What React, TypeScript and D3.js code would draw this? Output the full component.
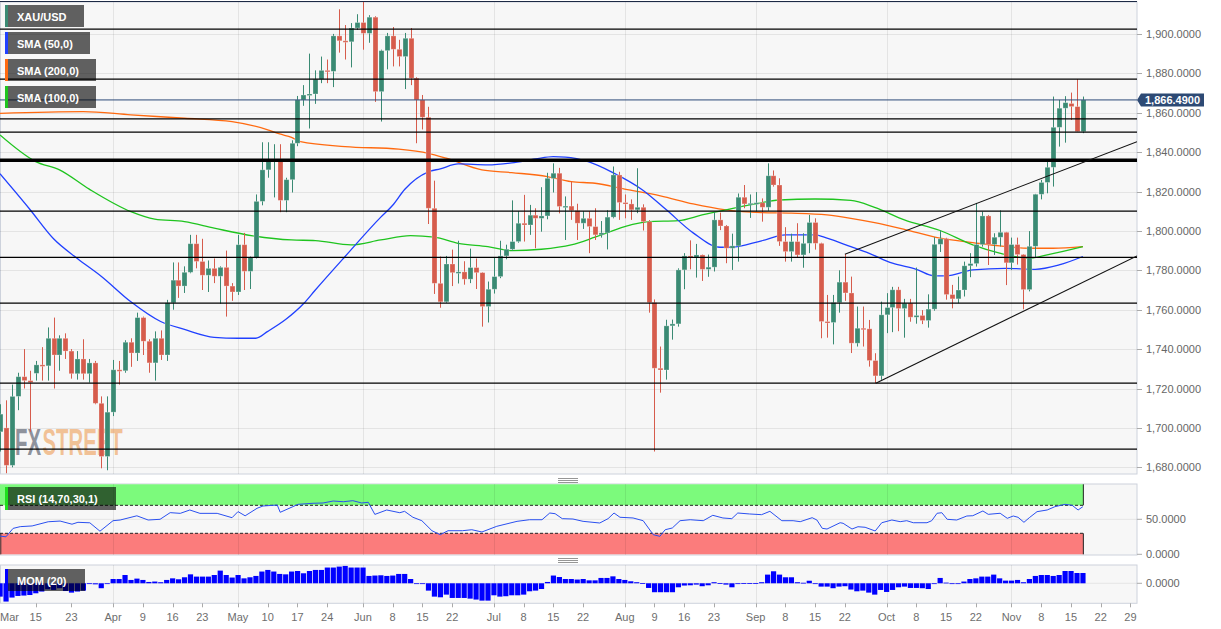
import React from 'react';
import * as d3 from 'd3';

// ---------- DATA ----------
// candle index 0 = 1 Apr 2021 (trading-day index), first candle = index -19
const FIRST_INDEX = -19;

const opens = [
  1698,1700,1681,1716,1726,1724,1727.7,1732,1731.5,1745.5,
  1737,1745.5,1739,1727.5,1735,1727.5,1733,1712.5,1685.5,1708,
  1729.5,1729,1743.5,1738,1756,1744,1733,1745.5,1737,1763.5,
  1775,1772,1779,1793.5,1784.5,1777.5,1781,1777,1781.5,1772,
  1769,1793,1779.5,1786.5,1815,1831,1836,1836.5,1815.5,1826,
  1844.5,1866.5,1869,1869.5,1877,1881.5,1881,1899,1896.5,1896,
  1903,1905.8,1900.3,1908.5,1870.7,1891.5,1899,1892.2,1888.5,1897.8,
  1877.5,1866.5,1857.7,1811.5,1773.4,1764,1783.2,1778.8,1779.2,1775.5,
  1781.4,1778.8,1761.6,1770.4,1776.8,1787.3,1790.7,1794.6,1803.9,1803,
  1808,1806.4,1807.6,1826.7,1829.3,1812.4,1812.6,1810.3,1803.9,1806.4,
  1802.2,1798,1799,1807,1828.4,1814.4,1813.7,1810.7,1812,1804.7,
  1763.6,1730.3,1729.4,1751.8,1752.8,1780.2,1787.3,1786.6,1787.8,1780.5,
  1781.6,1805.6,1802.5,1791.2,1792.4,1817.1,1813.7,1814,1814.3,1812,
  1828,1823.3,1794.6,1789.5,1794.6,1787.8,1793.7,1804.3,1793.7,1754,
  1753.5,1763.6,1774,1768.5,1743,1750.6,1750.3,1734.2,1726.4,1757.4,
  1761.1,1770.1,1760.6,1763.3,1756.2,1757.1,1754.5,1760.3,1793.2,1796,
  1767.7,1765.5,1770,1782.3,1783.4,1793.1,1807.6,1793.1,1796.8,1799.3,
  1783.8,1793.1,1788,1770.2,1792.2,1818.6,1824.6,1832.3,1852.6,1862.3,
  1864.7,1863.1,1850.4
];
const highs = [
  1712,1714,1722,1728,1740,1729,1734,1741,1751,1756,
  1747,1748,1740,1739,1745,1735,1734,1716,1716,1734.5,
  1734,1744.5,1745.5,1758.5,1756.5,1745,1749,1749.5,1765,1784,
  1784,1782,1798,1798,1796,1785,1786,1782,1790,1773.5,
  1798,1799,1787,1818.5,1845,1845,1844,1844,1827,1846,
  1868.5,1874,1890,1881.5,1888.5,1887,1900,1912.5,1904.5,1905.5,
  1910,1916.5,1909.5,1909,1892,1900.5,1903.5,1897,1900.5,1903,
  1878,1869,1863,1825.5,1787,1787.3,1790.5,1795,1784.6,1791,
  1786,1779,1774.3,1786.7,1795,1793,1815.5,1810,1818.3,1813.2,
  1811.5,1822.2,1829.5,1834.3,1832,1817.5,1825,1813.8,1810,1810,
  1811.5,1805,1810.5,1832.7,1830,1818.5,1816,1831.8,1813.5,1805.5,
  1765.2,1741.3,1754.9,1755,1781,1788.7,1795.2,1793.4,1788,1788,
  1809.6,1809.3,1803,1798.6,1819,1823.3,1818.5,1819.7,1816.5,1834.3,
  1830.7,1826.7,1801.9,1798.6,1803.9,1798.8,1808.1,1806.4,1794,1767.5,
  1767.5,1780,1788.2,1776.8,1761.6,1761.6,1754.8,1737.9,1764.1,1768.4,
  1771.6,1771.6,1765.5,1765.5,1781.4,1759.8,1767.8,1796.8,1800.2,1796.5,
  1772.6,1776.8,1784.4,1788.7,1814.2,1809.8,1808.1,1798.8,1810.4,1799.5,
  1796.6,1796.6,1788.2,1799.9,1818.8,1825.9,1836.4,1868.2,1866.5,1868.4,
  1870.2,1877,1868.2
];
const lows = [
  1688,1677,1680,1709,1720,1698,1724,1724,1724,1720,
  1729,1735,1725,1724.5,1724.5,1723,1712,1679.5,1678.5,1706,
  1722,1728,1731,1734,1737,1728,1724,1734.5,1734,1760,
  1766,1768.5,1778.5,1781,1770,1769,1773.5,1763,1756.5,1764.5,
  1767.5,1770,1770.5,1786,1813,1827,1817,1809.5,1809.5,1819.5,
  1843,1863.5,1852,1864.5,1875,1875,1873,1890.5,1887,1883,
  1902,1892,1895.5,1865.5,1855.5,1882,1883.5,1883.5,1872,1874,
  1844.5,1851.5,1803.5,1768,1761,1763.5,1772,1773.3,1772.7,1773.5,
  1770.5,1751.4,1753.5,1768.2,1776,1785.6,1790,1794,1794.6,1798,
  1791.2,1799.6,1805.9,1819.5,1808.9,1795.4,1805.6,1795.4,1801,1788.7,
  1795.4,1796.6,1790.6,1806.4,1805.6,1806.4,1805.6,1809,1800.2,1758.5,
  1688,1717.9,1724.5,1744.8,1751.4,1770.4,1780.5,1776.3,1774.6,1776.7,
  1779.4,1800.4,1783.6,1780.2,1784.4,1811.5,1806.6,1809.8,1804.7,1810.2,
  1822.5,1792.4,1784.4,1784.4,1786.5,1781.3,1788.7,1790.5,1745.5,1745.8,
  1742.4,1758.5,1764.5,1738,1741.3,1741.3,1731.1,1722.7,1724.4,1748.1,
  1748.6,1749.1,1745.8,1753.9,1752.9,1752.7,1750.9,1759.5,1789.3,1765.1,
  1760.7,1763.3,1766.7,1776.5,1781.9,1792,1782.7,1787.8,1792.1,1772.5,
  1780.2,1782.9,1760.2,1769.3,1786.3,1816,1819.1,1822.5,1842.8,1844.8,
  1856.3,1850.4,1849.6
];
const closes = [
  1707,1681,1716,1726,1724,1723,1732,1731.5,1745.5,1737,
  1745.5,1739,1727.5,1735,1727.5,1733,1712.5,1685.5,1708,1729.5,
  1729,1743.5,1738,1756,1744,1733,1745.5,1737,1763.5,1775,
  1772,1779,1793.5,1784.5,1777.5,1781,1777,1781.5,1772,1769,
  1793,1779.5,1786.5,1815,1831,1836,1836.5,1815.5,1826,1844.5,
  1866.5,1869,1869.5,1877,1881.5,1881,1899,1896.5,1896,1903,
  1905.8,1900.3,1908.5,1870.7,1891.5,1899,1892.2,1888.5,1897.8,1877.5,
  1866.5,1857.7,1811.5,1773.4,1764,1783.2,1778.8,1779.2,1775.5,1781.4,
  1778.8,1761.6,1770.4,1776.8,1787.3,1790.7,1794.6,1803.9,1803,1808,
  1806.4,1807.6,1826.7,1829.3,1812.4,1812.6,1810.3,1803.9,1806.4,1802.2,
  1798,1799,1807,1828.4,1814.4,1813.7,1810.7,1812,1804.7,1763.6,
  1730.3,1729.4,1751.8,1752.8,1780.2,1787.3,1786.6,1787.8,1780.5,1781.6,
  1805.6,1802.5,1791.2,1792.4,1817.1,1813.7,1814,1814.3,1812,1828,
  1823.3,1794.6,1789.5,1794.6,1787.8,1793.7,1804.3,1793.7,1754,1753.5,
  1763.6,1774,1768.5,1743,1750.6,1750.3,1734.2,1726.4,1757.4,1761.1,
  1770.1,1760.6,1763.3,1756.2,1757.1,1754.5,1760.3,1793.2,1796,1767.7,
  1765.5,1770,1782.3,1783.4,1793.1,1807.6,1793.1,1796.8,1799.3,1783.8,
  1793.1,1788,1770.2,1792.2,1818.6,1824.6,1832.3,1852.6,1862.3,1865.1,
  1863.1,1850.4,1866.49
];

const momValues = [
  -100,-137,-107,-95,-92,-88,-75,-62,-45,-50,
  -37,-58,-70,-62,-55,-2,-8,-37,-2,32,
  32,62,25,35,25,10,13,8,25,37,
  30,45,67,50,50,50,62,95,62,43,
  62,37,45,55,88,100,88,70,67,88,
  92,75,92,100,100,118,118,125,130,118,
  118,118,55,58,60,55,58,70,70,32,
  0,-5,-55,-100,-105,-85,-110,-110,-110,-115,
  -122,-130,-130,-90,-100,-97,-90,-90,-85,-60,
  -55,-43,10,58,47,32,32,28,32,22,
  22,40,40,52,32,25,15,8,2,-35,
  -67,-67,-67,-67,-30,-17,-15,-10,-22,-15,
  8,2,-10,-30,0,2,2,2,8,65,
  90,65,45,45,8,4,19,0,-25,-25,
  -37,-25,-22,-47,-60,-55,-70,-85,-50,-65,
  -50,-30,-25,-35,-35,-37,-43,-1,40,5,
  0,-3,13,32,37,50,50,65,37,20,
  20,25,8,32,55,62,62,55,62,92,
  92,77,77
];

// [candle index, value]
const sma50Points = [
  [-19,1829],[-14,1811],[-10,1796],[-6,1786],[-2,1777],[3,1764],[8,1754],[12,1750],[17,1746],
  [21,1745.5],[24,1745.5],[26,1749],[29,1755],[32,1763],[34,1770],[39,1787],[45,1807],[47,1813],
  [49,1821],[53,1830],[55,1831.5],[58,1834],[63,1833.5],[67,1834.5],[71,1836.5],[74,1837.7],
  [76,1837.5],[80,1835],[84,1829.6],[89,1820.8],[93,1810.7],[97.5,1799],[102,1791.7],[104,1791.7],
  [109,1795],[113,1798],[118,1798],[120,1796.3],[124,1792],[127,1788.7],[131,1783.6],[135,1780.5],
  [138,1777.2],[140,1777.2],[144.5,1780.2],[150,1781],[155,1780.5],[159,1782.7],[163,1787]
];
const sma100Points = [
  [-19,1848.7],[-13,1835.2],[-9,1831],[-4,1821.2],[3,1809.8],[7,1806],[12,1804.7],[17,1801.4],
  [23.5,1797.5],[30,1795.4],[34,1795.1],[40,1792.9],[45,1795.4],[50,1797.6],[54,1796.8],[58,1793.7],
  [63,1792],[67,1790],[72,1790.7],[77,1792.9],[81,1796.8],[86,1802.2],[90,1804.7],[95,1805.2],
  [99,1808.1],[103,1810.7],[108,1813.7],[112,1815.7],[118,1816.2],[124,1815.5],[128,1812],
  [133,1805.6],[139,1800.2],[144.5,1792.9],[149,1788.7],[154,1786.1],[157,1787.8],[163,1792]
];
const sma200Points = [
  [-19,1859.7],[-5,1860.6],[3,1858.9],[12,1857.2],[20,1855.5],[26,1851.3],[28,1849.2],[30,1847.5],
  [31.5,1845.3],[39,1842.8],[48,1841.5],[53,1839.4],[56,1836.9],[62,1831],[67,1829.6],[73,1827.6],
  [77,1825],[81,1824.2],[86,1821.2],[92,1817.8],[97.5,1813.7],[103,1810.7],[109,1809.3],[114,1809],
  [120,1808.1],[124,1806.4],[128,1804.2],[133,1800.8],[139,1796.3],[144.5,1794.1],[149,1792.4],
  [154,1791.2],[158,1791.2],[163,1792]
];
const rsiPoints = [
  [-19,26],[-18,25],[-16.8,37],[-15.6,39.5],[-13.6,40.5],[-10.9,46.5],[-8.9,47.5],[-6.9,43],[-5.9,45.7],
  [-3.9,45],[-2.2,33],[0,48],[1.2,49],[4,55],[5.9,49],[7.9,50],[9.6,59.5],[11.3,58.5],[12.9,63.3],
  [14.6,58.5],[17.5,58.5],[20,52.3],[21,61],[22.2,55],[24.2,65.7],[25.2,69],[27.6,70.4],[28.1,60],
  [31.1,71.4],[33.6,72.9],[35.3,73.3],[37,76.1],[38.7,75.1],[40.3,76.6],[41.8,73.3],[42.9,74.3],
  [44,57],[46,63.3],[48.2,59.4],[49,61.4],[50.4,52.9],[51.9,48],[53.6,33.7],[55,28],[56.3,33.7],
  [58.7,33.7],[60.3,35.1],[62,31.9],[64.5,40],[67.9,47.1],[70,49.4],[72.1,49.4],[73.4,59],[74.3,58],
  [75.5,50.9],[77.3,50.4],[79,47.1],[81.8,44.7],[83.2,50.9],[84.2,59],[85.2,52.9],[87.4,51.9],
  [89.1,48],[90.8,28],[91.9,25.7],[92.8,35.1],[94,37.6],[95.3,48],[97,49.4],[99.2,48],[100.8,55.7],
  [102.5,51.9],[104,50.9],[105,59],[107,57.6],[109,56.6],[110.4,61.4],[112.4,48],[114.3,48],
  [115.5,46.6],[117.5,52.3],[118.3,49],[119.2,37.1],[120,36.1],[122.2,45.1],[122.7,44.3],[124.2,36.1],
  [125.2,39.4],[126.4,38.6],[128.1,33.3],[129.2,45.1],[130.9,49],[132.3,46.6],[133.4,48],[134.5,45.1],
  [136.8,45.1],[137.6,48],[138.5,58.6],[139.3,59.4],[140.2,50],[141.8,49],[143.5,54.7],[144.5,55.1],
  [146.2,61.9],[147.1,57.1],[149.1,58.6],[150.3,51.4],[151.3,54.7],[152.1,52.9],[153.1,45.7],[154,52.3],
  [155.3,60.9],[157,63.3],[158.3,68],[160,71.4],[161.2,70],[162.2,63.3],[163,68]
];

const levelPrices = [1902.4, 1877.0, 1856.9, 1850.1, 1810.0, 1786.6, 1763.3, 1722.7, 1689.2];
const keyLevel = 1835.9;
const lastPrice = 1866.49;
// trend lines: [[index, price], [index, price]]
const trendLines = [
  [[123, 1788.2], [172.1, 1845.3]],
  [[128.2, 1722.7], [172.1, 1787.3]]
];
const priceTicks = [1680, 1700, 1720, 1740, 1760, 1780, 1800, 1820, 1840, 1860, 1880, 1900];
const rsiTicks = [0, 50];
const monthStarts = [0, 21, 42, 64, 86, 108, 130, 151];
const axisLabelIdx = [-23, -13, -7, 0, 5, 10, 15, 21, 26, 31, 36, 42, 47, 52, 57, 64, 69, 74, 79, 86, 91, 96, 101, 108, 113, 118, 123, 130, 135, 140, 145, 151, 156, 161, 166, 171];
const axisLabelText = ['Mar', '15', '23', 'Apr', '9', '16', '23', 'May', '10', '17', '24', 'Jun', '8', '15', '22', 'Jul', '8', '15', '22', 'Aug', '9', '16', '23', 'Sep', '8', '15', '22', 'Oct', '8', '15', '22', 'Nov', '8', '15', '22', '29'];
const legendNames = ['XAU/USD', 'SMA (50,0)', 'SMA (200,0)', 'SMA (100,0)'];

// ---------- STYLE ----------
const FONT = "'Liberation Sans', Arial, Helvetica, sans-serif";
const UP = '#3a8a73';
const DOWN = '#d65c4c';
const C50 = '#2040ff';
const C100 = '#1fc41f';
const C200 = '#ff6a10';
const GRID = 'rgba(0,0,0,0.075)';
const PANEL_BG = '#f7f7f7';
const PANEL_BORDER = '#cdd2dc';

export default function App() {
  const W = 1221, H = 629;
  const R = 1137; // right edge of panels
  const main = { top: 2, bottom: 474 };
  const rsiP = { top: 484, bottom: 555 };
  const momP = { top: 565, bottom: 603.3 };

  const x = d3.scaleLinear().domain([-19, 172.1]).range([0, R]);
  const y = d3.scaleLinear().domain([1676.6, 1916.2]).range([main.bottom, main.top]);
  const yR = d3.scaleLinear().domain([0, 100]).range([554.3, 484.3]);
  const yM = d3.scaleLinear().domain([-150, 137]).range([momP.bottom, momP.top]);
  const fmtP = d3.format(',.4f');

  const candles = opens.map((o, k) => ({
    i: FIRST_INDEX + k, o, h: highs[k], l: lows[k], c: closes[k]
  }));
  const lastIdx = FIRST_INDEX + closes.length - 1;

  const line = d3.line<number[]>()
    .x(d => x(d[0]))
    .y(d => y(d[1]))
    .curve(d3.curveMonotoneX);
  const rsiLine = d3.line<number[]>()
    .x(d => x(d[0]))
    .y(d => yR(d[1]));

  const legendColors = [UP, C50, C200, C100];
  const legendWidths = [79, 85, 91, 91];
  const bandRight = x(lastIdx) + 0.5;
  const lastY = y(lastPrice);

  return (
    <svg width={W} height={H} style={{ position: 'absolute', left: 0, top: 0, background: '#fff' }}
      fontFamily={FONT}>
      <defs>
        <clipPath id="clipMain"><rect x={0} y={main.top} width={R} height={main.bottom - main.top} /></clipPath>
        <clipPath id="clipRsi"><rect x={0} y={rsiP.top} width={R} height={rsiP.bottom - rsiP.top} /></clipPath>
        <clipPath id="clipMom"><rect x={0} y={momP.top} width={R} height={momP.bottom - momP.top} /></clipPath>
      </defs>

      {/* panel backgrounds */}
      <rect x={0.5} y={main.top} width={R - 0.5} height={main.bottom - main.top} fill={PANEL_BG} stroke={PANEL_BORDER} />
      <rect x={0.5} y={rsiP.top} width={R - 0.5} height={rsiP.bottom - rsiP.top} fill={PANEL_BG} stroke={PANEL_BORDER} />
      <rect x={0.5} y={momP.top} width={R - 0.5} height={momP.bottom - momP.top} fill={PANEL_BG} stroke={PANEL_BORDER} />

      {/* ---------- MAIN PANEL ---------- */}
      <g clipPath="url(#clipMain)">
        {priceTicks.map(p => (
          <line key={'g' + p} x1={0} x2={R} y1={Math.round(y(p)) + 0.5} y2={Math.round(y(p)) + 0.5} stroke={GRID} />
        ))}
        {monthStarts.map(i => (
          <line key={'v' + i} x1={Math.round(x(i)) + 0.5} x2={Math.round(x(i)) + 0.5} y1={main.top} y2={main.bottom} stroke={GRID} />
        ))}
        {/* watermark (horizontally condensed) */}
        <g transform="translate(15,455) scale(0.55,1)" fontFamily="'Liberation Sans', Arial, sans-serif"
          fontWeight="bold" fontSize={37}>
          <text x={0} y={0} fill="#7b808c" fillOpacity={0.85}>FX</text>
          <text x={50} y={0} fill="#ee9d55" fillOpacity={0.6}>STREET</text>
        </g>
        {/* moving averages */}
        <path d={line(sma200Points) || ''} fill="none" stroke={C200} strokeWidth={1.3} />
        <path d={line(sma100Points) || ''} fill="none" stroke={C100} strokeWidth={1.3} />
        <path d={line(sma50Points) || ''} fill="none" stroke={C50} strokeWidth={1.3} />
        {/* candles */}
        {candles.map(d => {
          const cx = Math.round(x(d.i)) + 0.5;
          const col = d.c >= d.o ? UP : DOWN;
          const top = y(Math.max(d.o, d.c));
          const bot = y(Math.min(d.o, d.c));
          const hgt = Math.max(bot - top, 1.5);
          return (
            <g key={'c' + d.i}>
              <line x1={cx} x2={cx} y1={y(d.h)} y2={y(d.l)} stroke={col} strokeWidth={1} />
              <rect x={cx - 2.5} y={top} width={5} height={hgt} fill={col} stroke="rgba(255,255,255,0.35)" strokeWidth={0.8} />
            </g>
          );
        })}
        {/* horizontal levels */}
        {levelPrices.map(p => (
          <line key={'l' + p} x1={0} x2={R} y1={y(p)} y2={y(p)} stroke="#000" strokeWidth={1.3} />
        ))}
        <line x1={0} x2={R} y1={y(keyLevel)} y2={y(keyLevel)} stroke="#000" strokeWidth={3.4} />
        {/* trend lines */}
        {trendLines.map((t, k) => (
          <line key={'t' + k} x1={x(t[0][0])} y1={y(t[0][1])} x2={x(t[1][0])} y2={y(t[1][1])} stroke="#111" strokeWidth={1.1} />
        ))}
        {/* last price line */}
        <line x1={0} x2={R} y1={lastY} y2={lastY} stroke="#2c4a78" strokeWidth={1} />
      </g>
      <line x1={0} x2={R} y1={1.5} y2={1.5} stroke="#1d2a45" strokeWidth={1.2} />

      {/* legend */}
      {legendNames.map((name, k) => {
        const top = 5 + k * 27;
        return (
          <g key={'lg' + k}>
            <rect x={5} y={top} width={legendWidths[k]} height={22} fill="rgba(0,0,0,0.61)" />
            <rect x={5} y={top} width={3} height={22} fill={legendColors[k]} />
            <text x={17} y={top + 15.5} fill="#fff" fontSize={11} fontWeight="bold">{name}</text>
          </g>
        );
      })}

      {/* right price axis */}
      {priceTicks.map(p => (
        <g key={'pt' + p}>
          <line x1={R} x2={R + 5} y1={Math.round(y(p)) + 0.5} y2={Math.round(y(p)) + 0.5} stroke="#aaa" />
          <text x={R + 9} y={y(p) + 4} fontSize={11} fill="#666">{fmtP(p)}</text>
        </g>
      ))}
      <path d={`M${R},${lastY} L${R + 4},${lastY - 6.5} L${R + 67},${lastY - 6.5} L${R + 67},${lastY + 6.5} L${R + 4},${lastY + 6.5} Z`} fill="#2d4a74" />
      <text x={R + 35.5} y={lastY + 4} fontSize={11} fontWeight="bold" fill="#fff" textAnchor="middle">{fmtP(lastPrice)}</text>

      {/* grips */}
      {[478.5, 480.5, 482.5, 558.5, 560.5, 562.5].map(g => (
        <line key={'gr' + g} x1={558} x2={578} y1={g} y2={g} stroke="#8a8a8a" strokeWidth={0.9} />
      ))}

      {/* ---------- RSI PANEL ---------- */}
      <g clipPath="url(#clipRsi)">
        <rect x={0} y={yR(100)} width={bandRight} height={yR(70) - yR(100)} fill="#7cfa7c" />
        <rect x={0} y={yR(30)} width={bandRight} height={yR(0) - yR(30)} fill="#fb7c7c" />
        <line x1={bandRight} x2={bandRight} y1={yR(100)} y2={yR(70)} stroke="#222" />
        <line x1={bandRight} x2={bandRight} y1={yR(30)} y2={yR(0)} stroke="#222" />
        <line x1={0.8} x2={0.8} y1={yR(30)} y2={yR(0)} stroke="#333" />
        <line x1={0} x2={bandRight} y1={yR(70)} y2={yR(70)} stroke="#222" strokeDasharray="3,2" />
        <line x1={0} x2={bandRight} y1={yR(30)} y2={yR(30)} stroke="#222" strokeDasharray="3,2" />
        <line x1={0} x2={R} y1={yR(50)} y2={yR(50)} stroke={GRID} />
        {monthStarts.map(i => (
          <line key={'rv' + i} x1={Math.round(x(i)) + 0.5} x2={Math.round(x(i)) + 0.5} y1={rsiP.top} y2={rsiP.bottom} stroke={GRID} />
        ))}
        <path d={rsiLine(rsiPoints) || ''} fill="none" stroke="#2a50f0" strokeWidth={1} />
      </g>
      <g>
        <rect x={5} y={487} width={111} height={23} fill="rgba(0,0,0,0.61)" />
        <rect x={5} y={487} width={3} height={23} fill="#1ee01e" />
        <text x={17} y={503} fill="#fff" fontSize={11} fontWeight="bold">RSI (14,70,30,1)</text>
      </g>
      {rsiTicks.map(v => (
        <g key={'rt' + v}>
          <line x1={R} x2={R + 5} y1={yR(v)} y2={yR(v)} stroke="#aaa" />
          <text x={R + 9} y={yR(v) + 4} fontSize={11} fill="#666">{d3.format('.4f')(v)}</text>
        </g>
      ))}

      {/* ---------- MOM PANEL ---------- */}
      <g clipPath="url(#clipMom)">
        <line x1={0} x2={R} y1={yM(0)} y2={yM(0)} stroke={GRID} />
        {monthStarts.map(i => (
          <line key={'mv' + i} x1={Math.round(x(i)) + 0.5} x2={Math.round(x(i)) + 0.5} y1={momP.top} y2={momP.bottom} stroke={GRID} />
        ))}
        {momValues.map((v, k) => {
          const i = FIRST_INDEX + k;
          const y0 = yM(0), y1 = yM(v);
          return (
            <rect key={'m' + i} x={x(i) - 2.5} y={Math.min(y0, y1)} width={5.2} height={Math.max(Math.abs(y1 - y0), 0.8)} fill="#0000ff" />
          );
        })}
      </g>
      <g>
        <rect x={5} y={569} width={80} height={22} fill="rgba(0,0,0,0.61)" />
        <rect x={5} y={569} width={3} height={22} fill="#0000ff" />
        <text x={17} y={584.5} fill="#fff" fontSize={11} fontWeight="bold">MOM (20)</text>
      </g>
      <line x1={R} x2={R + 5} y1={yM(0)} y2={yM(0)} stroke="#aaa" />
      <text x={R + 9} y={yM(0) + 4} fontSize={11} fill="#666">{d3.format('.4f')(0)}</text>

      {/* ---------- X AXIS ---------- */}
      {axisLabelIdx.map((i, k) => {
        const px = x(i);
        const inside = px >= 0;
        return (
          <g key={'xl' + k}>
            {inside && <line x1={Math.round(px) + 0.5} x2={Math.round(px) + 0.5} y1={momP.bottom} y2={momP.bottom + 4} stroke="#aaa" />}
            <text x={inside ? px : 0} y={621} fontSize={11} fill="#6e6e6e" textAnchor={inside ? 'middle' : 'start'}>{axisLabelText[k]}</text>
          </g>
        );
      })}
    </svg>
  );
}
